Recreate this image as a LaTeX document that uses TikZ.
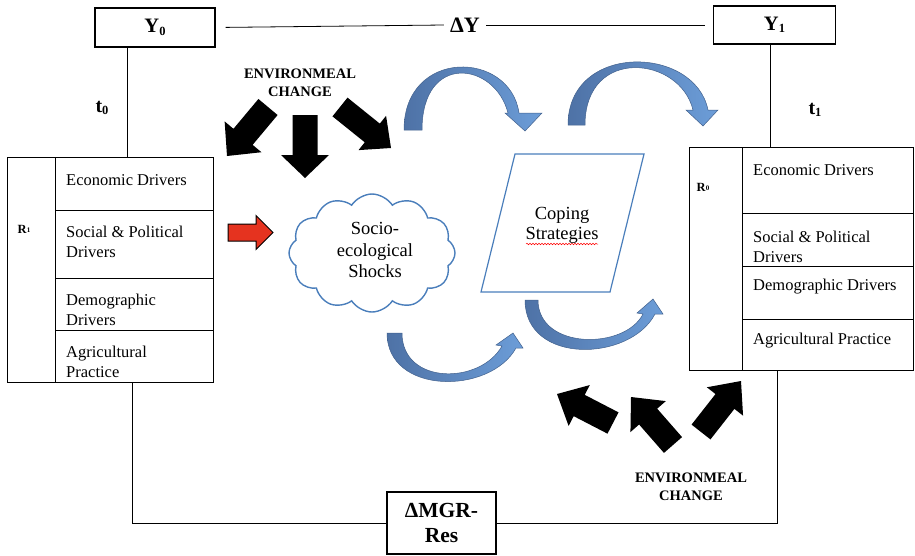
\documentclass[tikz,border=0pt]{standalone}
\usepackage{fontspec}
\setmainfont{Liberation Serif}
\usetikzlibrary{calc,shapes.symbols,decorations.pathmorphing}
\definecolor{cloudblue}{HTML}{4A7EBB}
\definecolor{arrdark}{HTML}{4E72A6}
\definecolor{arrlight}{HTML}{6C9DD8}
\definecolor{arrred}{HTML}{E5331F}
\newcommand\lowsub[2]{\raisebox{-0.25ex}{\fontsize{#1}{#1}\selectfont #2}}
\newcommand\blockarrow[6]{%
  \path #2 coordinate (ba-t) #3 coordinate (ba-p);
  \path ($(ba-p)!#6!(ba-t)$) coordinate (ba-h);
  \path[#1] ($(ba-t)!#4/2!90:(ba-p)$) -- ($(ba-h)!#4/2!90:(ba-p)$) --
    ($(ba-h)!#5/2!90:(ba-p)$) -- (ba-p) -- ($(ba-h)!#5/2!-90:(ba-p)$) --
    ($(ba-h)!#4/2!-90:(ba-p)$) -- ($(ba-t)!#4/2!-90:(ba-p)$) -- cycle;}
\tikzset{
  thinline/.style={line width=0.8pt},
  ybox/.style={draw, line width=1.1pt, inner sep=0pt, font=\fontsize{20.5}{22}\selectfont\bfseries},
  lbl/.style={inner sep=0pt, font=\fontsize{22}{24}\selectfont\bfseries},
  celltext/.style={anchor=west, align=left, inner sep=0pt, font=\fontsize{16.5}{20.5}\selectfont},
  envtext/.style={align=center, inner sep=0pt, font=\fontsize{14.5}{17.5}\selectfont\bfseries},
  bigtext/.style={align=center, inner sep=0pt, font=\fontsize{18.5}{21.5}\selectfont},
  curvarrow/.style={left color=arrdark, right color=arrlight, draw=arrdark!85!black, line width=0.5pt},
  blackarrow/.style={fill=black},
}
\begin{document}
\begin{tikzpicture}[x=1pt,y=-1pt]
\useasboundingbox (0,0) rectangle (915,555);

% top boxes and labels
\node[ybox, minimum width=120pt, minimum height=39pt] (Y0) at (155,27.5) {Y\lowsub{12.5}{0}};
\node[ybox, minimum width=122pt, minimum height=38pt] (Y1) at (774.5,25) {Y\lowsub{12.5}{1}};
\node[lbl, inner sep=6pt] (dY) at (465,25) {ΔY};
\draw[thinline, shorten <=10pt] (Y0.east) -- (dY.west);
\draw[thinline, shorten >=8pt] (dY.east) -- (Y1.west);

\node[lbl, font=\fontsize{20}{22}\selectfont\bfseries] (t0) at (102,108) {t\lowsub{12.5}{0}};
\node[lbl, font=\fontsize{20}{22}\selectfont\bfseries] (t1) at (815,110) {t\lowsub{12.5}{1}};

% left table
\node[draw, thinline, minimum width=206pt, minimum height=225pt, anchor=north west, inner sep=0pt] (tL) at (7,157) {};
\draw[thinline] (55,157) -- (55,382);
\draw[thinline] (55,210) -- (213,210);
\draw[thinline] (55,278) -- (213,278);
\draw[thinline] (55,330) -- (213,330);
\node[inner sep=0pt, font=\fontsize{12.5}{12.5}\selectfont\bfseries] (R1) at (24,229) {R\raisebox{0.1ex}{\fontsize{7}{7}\selectfont 1}};
\node[celltext] (l1) at (66,180) {Economic Drivers};
\node[celltext] (l2) at (66,242) {Social \& Political\\Drivers};
\node[celltext] (l3) at (66,310) {Demographic\\Drivers};
\node[celltext] (l4) at (66,362) {Agricultural\\Practice};

% right table
\node[draw, thinline, minimum width=224pt, minimum height=223pt, anchor=north west, inner sep=0pt] (tR) at (689,147) {};
\draw[thinline] (742,147) -- (742,370);
\draw[thinline] (742,213) -- (913,213);
\draw[thinline] (742,266) -- (913,266);
\draw[thinline] (742,319) -- (913,319);
\node[inner sep=0pt, font=\fontsize{12.5}{12.5}\selectfont\bfseries] (R0) at (703,187) {R\raisebox{0.1ex}{\fontsize{7}{7}\selectfont 0}};
\node[celltext] (r1) at (753,170) {Economic Drivers};
\node[celltext] (r2) at (753,247) {Social \& Political\\Drivers};
\node[celltext] (r3) at (753,287) {Demographic Drivers};
\node[celltext] (r4) at (753,341) {Agricultural Practice};

% vertical connectors
\coordinate (cL) at (127,0);
\coordinate (cR) at (770,0);
\coordinate (cBL) at (132,0);
\coordinate (cBR) at (777,0);
\draw[thinline] (Y0.south -| cL) -- (tL.north -| cL);
\draw[thinline] (Y1.south -| cR) -- (tR.north -| cR);

% bottom box
\node[ybox, minimum width=109pt, minimum height=62pt, align=center, font=\fontsize{21.5}{25}\selectfont\bfseries] (mgr) at (441.5,523) {ΔMGR-\\Res};
\draw[thinline] (tL.south -| cBL) |- (mgr.west);
\draw[thinline] (mgr.east) -| (tR.south -| cBR);

% environmental change labels
\node[envtext] (env1) at (300,83) {ENVIRONMEAL\\CHANGE};
\node[envtext] (env2) at (691,487) {ENVIRONMEAL\\CHANGE};

% black block arrows
\blockarrow{blackarrow}{(268,107)}{(227,156)}{25pt}{48pt}{25pt}
\blockarrow{blackarrow}{(305,115)}{(305,178)}{25pt}{48pt}{23pt}
\blockarrow{blackarrow}{(340,107)}{(391,148)}{24pt}{44pt}{24pt}
\blockarrow{blackarrow}{(613,423)}{(557,394)}{24pt}{46pt}{25pt}
\blockarrow{blackarrow}{(673,445)}{(631,397)}{24pt}{47pt}{26pt}
\blockarrow{blackarrow}{(701,432)}{(741,381)}{24pt}{46pt}{26pt}

% red arrow
\blockarrow{fill=arrred, draw=black, line width=1pt}{(228,232.5)}{(273,232.5)}{17pt}{34pt}{17pt}

% cloud
\node[cloud, cloud puffs=12, cloud puff arc=115, aspect=1.45, draw=cloudblue, line width=1.4pt, minimum width=166pt, minimum height=118pt, inner sep=0pt] (cloud) at (372,253) {};
\node[bigtext] (cloudtxt) at (375,250) {Socio-\\ecological\\Shocks};

% parallelogram
\draw[cloudblue, line width=1.2pt] (515,154) -- (644,154) -- (610,292) -- (481,292) -- cycle;
\node[bigtext, font=\fontsize{18.5}{20}\selectfont] (coping) at (562,225) {Coping\\Strategies};
\draw[red, line width=0.5pt, decorate, decoration={snake, amplitude=0.8pt, segment length=3pt}] (526,244) -- (598,244);

% curved blue arrows
\path[curvarrow] (404,130) .. controls (404,48) and (510,50) .. (519,113) -- (542,113) -- (525,131) -- (505,113) -- (508,113) .. controls (495,62) and (422,52) .. (422,130) -- cycle;
\path[curvarrow] (568,125) .. controls (568,42) and (695,45) .. (708,110) -- (718,110) -- (703,126) -- (686,110) -- (693,110) .. controls (680,56) and (585,46) .. (585,125) -- cycle;
\path[curvarrow] (387,333) .. controls (387,395) and (490,395) .. (516,348) -- (523,348) -- (513,333) -- (496,345) -- (502,346) .. controls (480,385) and (402,385) .. (402,333) -- cycle;
\path[curvarrow] (525,300) .. controls (525,365) and (630,362) .. (655,314) -- (663,314) -- (653,299) -- (637,313) -- (643,314) .. controls (625,350) and (538,350) .. (538,300) -- cycle;
\end{tikzpicture}
\end{document}
